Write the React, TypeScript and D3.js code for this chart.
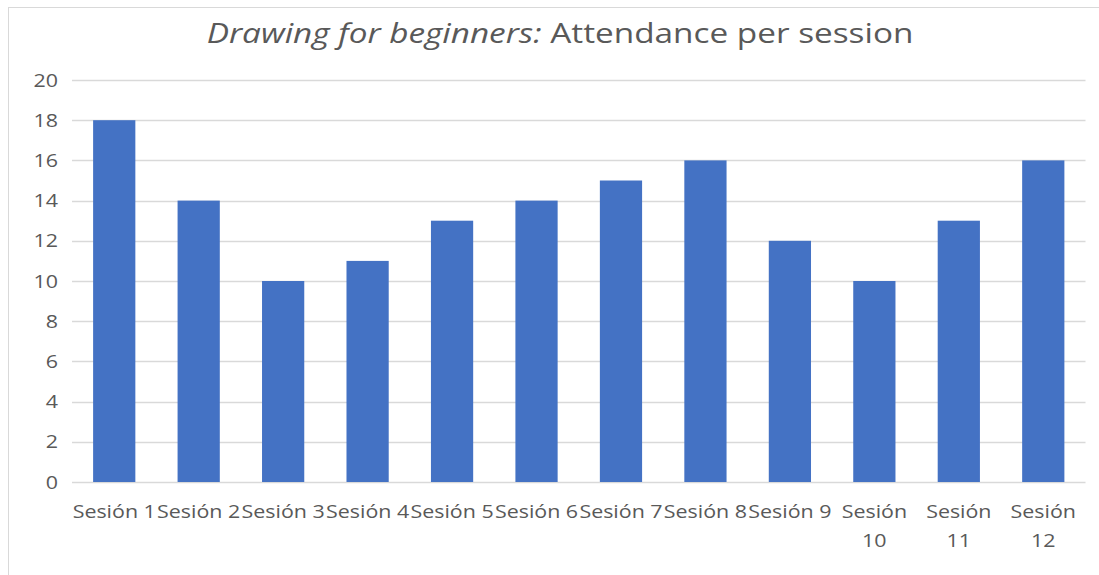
import React from "react";
import * as d3 from "d3";

const categories: string[][] = [
  ["Sesión 1"], ["Sesión 2"], ["Sesión 3"], ["Sesión 4"], ["Sesión 5"], ["Sesión 6"],
  ["Sesión 7"], ["Sesión 8"], ["Sesión 9"], ["Sesión", "10"], ["Sesión", "11"], ["Sesión", "12"],
];
const attendance: number[] = [18, 14, 10, 11, 13, 14, 15, 16, 12, 10, 13, 16];
const yTicks: number[] = [0, 2, 4, 6, 8, 10, 12, 14, 16, 18, 20];
const titleItalic = "Drawing for beginners:";
const titleRest = " Attendance per session";

const W = 1099;
const H = 575;
const FONT = "'Open Sans', 'Noto Sans', sans-serif";
const TEXT = "#595959";
const GRID = "#d9d9d9";
const BAR = "#4472C4";
const SX = 1.19;

export default function App() {
  const keys = categories.map((c) => c.join(" "));
  const x = d3.scaleBand<string>().domain(keys).range([72, 1085.5]).paddingInner(0.5).paddingOuter(0.25);
  const y = d3.scaleLinear().domain([0, 20]).range([482, 80]);

  return (
    <svg width={W} height={H} style={{ position: "absolute", left: 0, top: 0 }}>
      <rect x={0} y={0} width={W} height={H} fill="#ffffff" />
      <rect x={8.5} y={7.5} width={1110} height={600} fill="#ffffff" stroke={GRID} strokeWidth={1} />
      <text transform={`translate(560,43) scale(${SX},1)`} textAnchor="middle" fontFamily={FONT} fontSize={28} fill={TEXT}>
        <tspan fontStyle="italic">{titleItalic}</tspan>
        <tspan>{titleRest}</tspan>
      </text>
      {yTicks.map((t) => (
        <g key={t}>
          <line x1={72} x2={1085.5} y1={Math.round(y(t)) + 0.5} y2={Math.round(y(t)) + 0.5} stroke={GRID} strokeWidth={1.5} />
          <text transform={`translate(58,${y(t) + 6.5}) scale(${SX},1)`} textAnchor="end" fontFamily={FONT} fontSize={18} fill={TEXT}>
            {t}
          </text>
        </g>
      ))}
      {attendance.map((v, i) => (
        <rect key={i} x={x(keys[i])!} y={y(v)} width={x.bandwidth()} height={y(0) - y(v)} fill={BAR} />
      ))}
      {categories.map((lines, i) => (
        <text key={i} transform={`translate(${x(keys[i])! + x.bandwidth() / 2},518) scale(${SX},1)`} textAnchor="middle" fontFamily={FONT} fontSize={18} fill={TEXT}>
          {lines.map((l, j) => (
            <tspan key={j} x={0} dy={j === 0 ? 0 : 29}>
              {l}
            </tspan>
          ))}
        </text>
      ))}
    </svg>
  );
}
